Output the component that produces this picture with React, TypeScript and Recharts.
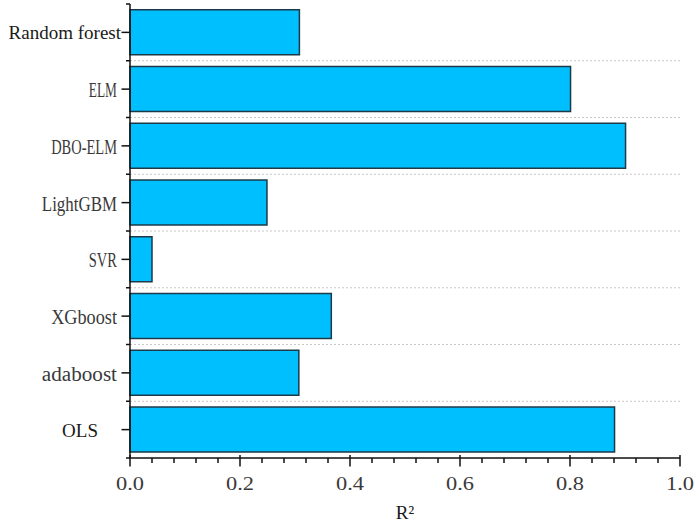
import React from 'react'
import { BarChart, Bar, XAxis, YAxis, CartesianGrid } from 'recharts'

const models = ['Random forest', 'ELM', 'DBO-ELM', 'LightGBM', 'SVR', 'XGboost', 'adaboost', 'OLS']
const r2 = [0.308, 0.801, 0.901, 0.249, 0.04, 0.366, 0.307, 0.881]
const majorTicks = [0, 0.2, 0.4, 0.6, 0.8, 1.0]
const allTicks = [
  0, 0.04, 0.08, 0.12, 0.16, 0.2, 0.24, 0.28, 0.32, 0.36, 0.4, 0.44, 0.48,
  0.52, 0.56, 0.6, 0.64, 0.68, 0.72, 0.76, 0.8, 0.84, 0.88, 0.92, 0.96, 1.0,
]
// these two labels are set in a Times-like face, the rest in a SimSun-like one
const serifLabels = ['Random forest', 'OLS']

const data = models.map((name, i) => ({ name, r2: r2[i] }))

const W = 699
const H = 527
const TOP = 4
const AXIS_W = 130
const RIGHT = 19
const X_AXIS_H = 69
const BAND = (H - TOP - X_AXIS_H) / models.length

const SERIF = '"Liberation Serif", "Times New Roman", serif'

function YTick(props: any) {
  const { x, y, payload, index } = props
  const label: string = payload.value
  const isSerif = serifLabels.includes(label)
  const shift = label === 'OLS' ? -23 : 0
  const last = index === models.length - 1
  return (
    <g>
      <line x1={x - 8.5} x2={x} y1={y} y2={y} stroke="#111" strokeWidth={1.5} />
      <line x1={x - 4} x2={x} y1={y - BAND / 2} y2={y - BAND / 2} stroke="#111" strokeWidth={1.5} />
      {last && <line x1={x - 4} x2={x} y1={y + BAND / 2} y2={y + BAND / 2} stroke="#111" strokeWidth={1.5} />}
      {isSerif ? (
        <text x={x - 9 + shift} y={y + 7} textAnchor="end" fontFamily={SERIF} fontSize={19} fill="#1a1a1a">
          {label}
        </text>
      ) : (
        <text
          x={x - 13}
          y={y + 8}
          textAnchor="end"
          fontFamily={SERIF}
          fontSize={20}
          fill="#3a3a3a"
          textLength={label.length * 9.4}
          lengthAdjust="spacingAndGlyphs"
        >
          {label}
        </text>
      )}
    </g>
  )
}

function XTick(props: any) {
  const { x, y, payload } = props
  const v: number = payload.value
  const major = majorTicks.some((m) => Math.abs(m - v) < 1e-6)
  return (
    <g>
      <line x1={x} x2={x} y1={major ? y - 3 : y} y2={major ? y + 8.5 : y + 5} stroke="#111" strokeWidth={1.5} />
      {major && (
        <text
          x={x}
          y={y + 32}
          textAnchor="middle"
          fontFamily={SERIF}
          fontSize={19}
          fill="#3a3a3a"
          textLength={28}
          lengthAdjust="spacingAndGlyphs"
        >
          {v.toFixed(1)}
        </text>
      )}
    </g>
  )
}

function AxisTitle(props: any) {
  const { x, y, width } = props.viewBox
  return (
    <text x={x + width / 2} y={y + 61} textAnchor="middle" fontFamily={SERIF} fontSize={19} fill="#1a1a1a">
      R²
    </text>
  )
}

export default function App() {
  return (
    <div style={{ position: 'fixed', left: 0, top: 0, width: W, height: H, background: '#fff' }}>
      <BarChart
        width={W}
        height={H}
        data={data}
        layout="vertical"
        barCategoryGap="10%"
        margin={{ top: TOP, right: RIGHT, bottom: 0, left: 0 }}
      >
        <CartesianGrid
          vertical={false}
          stroke="#c8c8c8"
          strokeDasharray="2 2"
          horizontalCoordinatesGenerator={({ offset }: any) =>
            models.slice(1).map((_, i) => offset.top + (i + 1) * (offset.height / models.length))
          }
        />
        <XAxis
          type="number"
          domain={[0, 1]}
          ticks={allTicks}
          interval={0}
          height={X_AXIS_H}
          tickSize={0}
          tickMargin={0}
          tickLine={false}
          axisLine={{ stroke: '#111', strokeWidth: 1.5 }}
          tick={<XTick />}
          label={<AxisTitle />}
        />
        <YAxis
          type="category"
          dataKey="name"
          width={AXIS_W}
          interval={0}
          tickSize={0}
          tickMargin={0}
          tickLine={false}
          axisLine={{ stroke: '#111', strokeWidth: 1.5 }}
          tick={<YTick />}
        />
        <Bar dataKey="r2" fill="#00BFFF" stroke="#1d3a48" strokeWidth={1.5} isAnimationActive={false} />
      </BarChart>
    </div>
  )
}
